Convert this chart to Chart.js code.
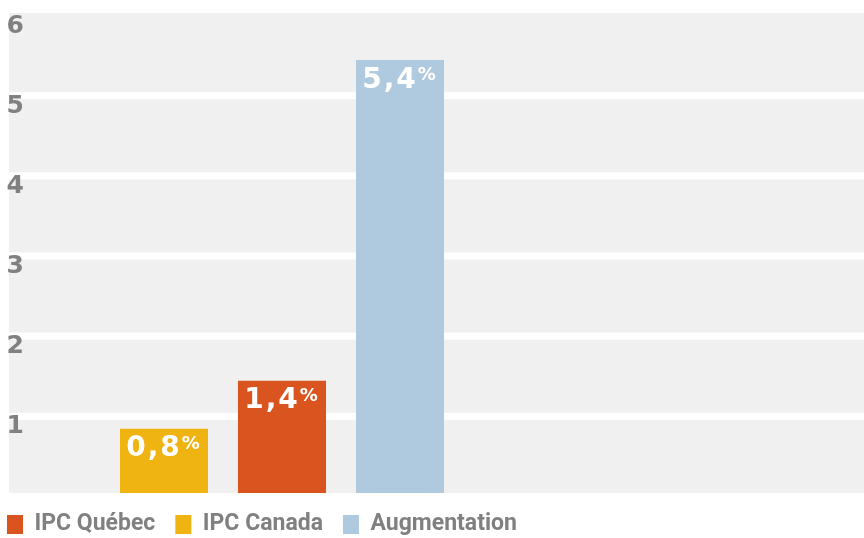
<!DOCTYPE html>
<html>
<head>
<meta charset="utf-8">
<script src="https://cdn.jsdelivr.net/npm/chart.js@4.4.1/dist/chart.umd.min.js"></script>
<style>
  html, body { margin: 0; background: #fff; }
  #wrap { width: 864px; height: 538px; }
</style>
</head>
<body>
<div id="wrap"><canvas id="barChartIPC"></canvas></div>
<script>
// categories (the last ones stay empty, they only give room on the right)
const categories    = ['IPC Canada', 'IPC Québec', 'Augmentation', '', '', ''];
const quebecValues  = [null, 1.4, null, null, null, null];
const canadaValues  = [0.8, null, null, null, null, null];
const augmValues    = [null, null, 5.4, null, null, null];
const yMin = 0, yMax = 6, yStep = 1;

const grayLabel = '#808080';

// gray bands with white gaps, drawn behind everything and across the full width
const bandsPlugin = {
    id: 'bands',
    beforeDraw(chart) {
        const { ctx, scales: { y } } = chart;
        const left = 9, right = chart.width;
        const top = y.getPixelForValue(yMax) + 1;
        const bottom = y.getPixelForValue(yMin);
        ctx.save();
        ctx.fillStyle = '#f0f0f0';
        ctx.fillRect(left, top, right - left, bottom - top);
        ctx.fillStyle = '#ffffff';
        y.ticks.forEach(t => {
            if (t.value > yMin && t.value < yMax) {
                const p = y.getPixelForValue(t.value);
                ctx.fillRect(left, p, right - left, 7);
            }
        });
        ctx.restore();
    }
};

// white value label at the top of each bar, with a smaller "%"
const valueLabels = {
    id: 'valueLabels',
    afterDatasetsDraw(chart) {
        const ctx = chart.ctx;
        chart.data.datasets.forEach((ds, di) => {
            const meta = chart.getDatasetMeta(di);
            meta.data.forEach((bar, i) => {
                const v = ds.data[i];
                if (v === null || v === undefined) return;
                const num = v.toFixed(1).replace('.', ',');
                ctx.save();
                ctx.fillStyle = '#ffffff';
                ctx.textBaseline = 'alphabetic';
                ctx.textAlign = 'left';
                ctx.letterSpacing = '2px';
                ctx.font = 'bold 28px "DejaVu Sans"';
                const w1 = ctx.measureText(num).width;
                ctx.font = 'bold 18px "DejaVu Sans"';
                const w2 = ctx.measureText('%').width;
                const x0 = bar.x - (w1 + w2) / 2;
                const top = bar.y + 7;
                ctx.font = 'bold 28px "DejaVu Sans"';
                ctx.fillText(num, x0, top + 20.5);
                ctx.font = 'bold 18px "DejaVu Sans"';
                ctx.fillText('%', x0 + w1, top + 13);
                ctx.restore();
            });
        });
    }
};

new Chart(document.getElementById('barChartIPC'), {
    type: 'bar',
    data: {
        labels: categories,
        datasets: [
            { label: 'IPC Québec',   data: quebecValues, backgroundColor: '#d9541e' },
            { label: 'IPC Canada',   data: canadaValues, backgroundColor: '#efb412' },
            { label: 'Augmentation', data: augmValues,   backgroundColor: '#afc9de' },
        ]
    },
    options: {
        responsive: true,
        maintainAspectRatio: false,
        animation: false,
        layout: { padding: { left: -13, top: 12, right: 51, bottom: -8 } },
        datasets: {
            bar: {
                skipNull: true,
                barPercentage: 0.746,
                categoryPercentage: 1,
                borderWidth: 0,
            }
        },
        scales: {
            x: { display: false },
            y: {
                min: yMin,
                max: yMax,
                grid: { display: false },
                border: { display: false },
                ticks: {
                    stepSize: yStep,
                    padding: 73,
                    labelOffset: 14,
                    color: grayLabel,
                    font: { family: 'DejaVu Sans', size: 25, weight: 'bold' },
                    callback: v => v === 0 ? '' : v,
                },
                afterFit(scale) {
                    scale.width = 118;
                    scale.paddingTop = 0;
                    scale.paddingBottom = 0;
                }
            }
        },
        plugins: {
            legend: {
                display: true,
                position: 'bottom',
                align: 'start',
                labels: {
                    boxWidth: 16,
                    boxHeight: 19,
                    padding: 20,
                    color: grayLabel,
                    font: { family: 'Roboto, "Liberation Sans", sans-serif', size: 23, weight: 'bold' },
                }
            },
            title: { display: false },
            tooltip: { enabled: false }
        }
    },
    plugins: [bandsPlugin, valueLabels]
});
</script>
</body>
</html>
